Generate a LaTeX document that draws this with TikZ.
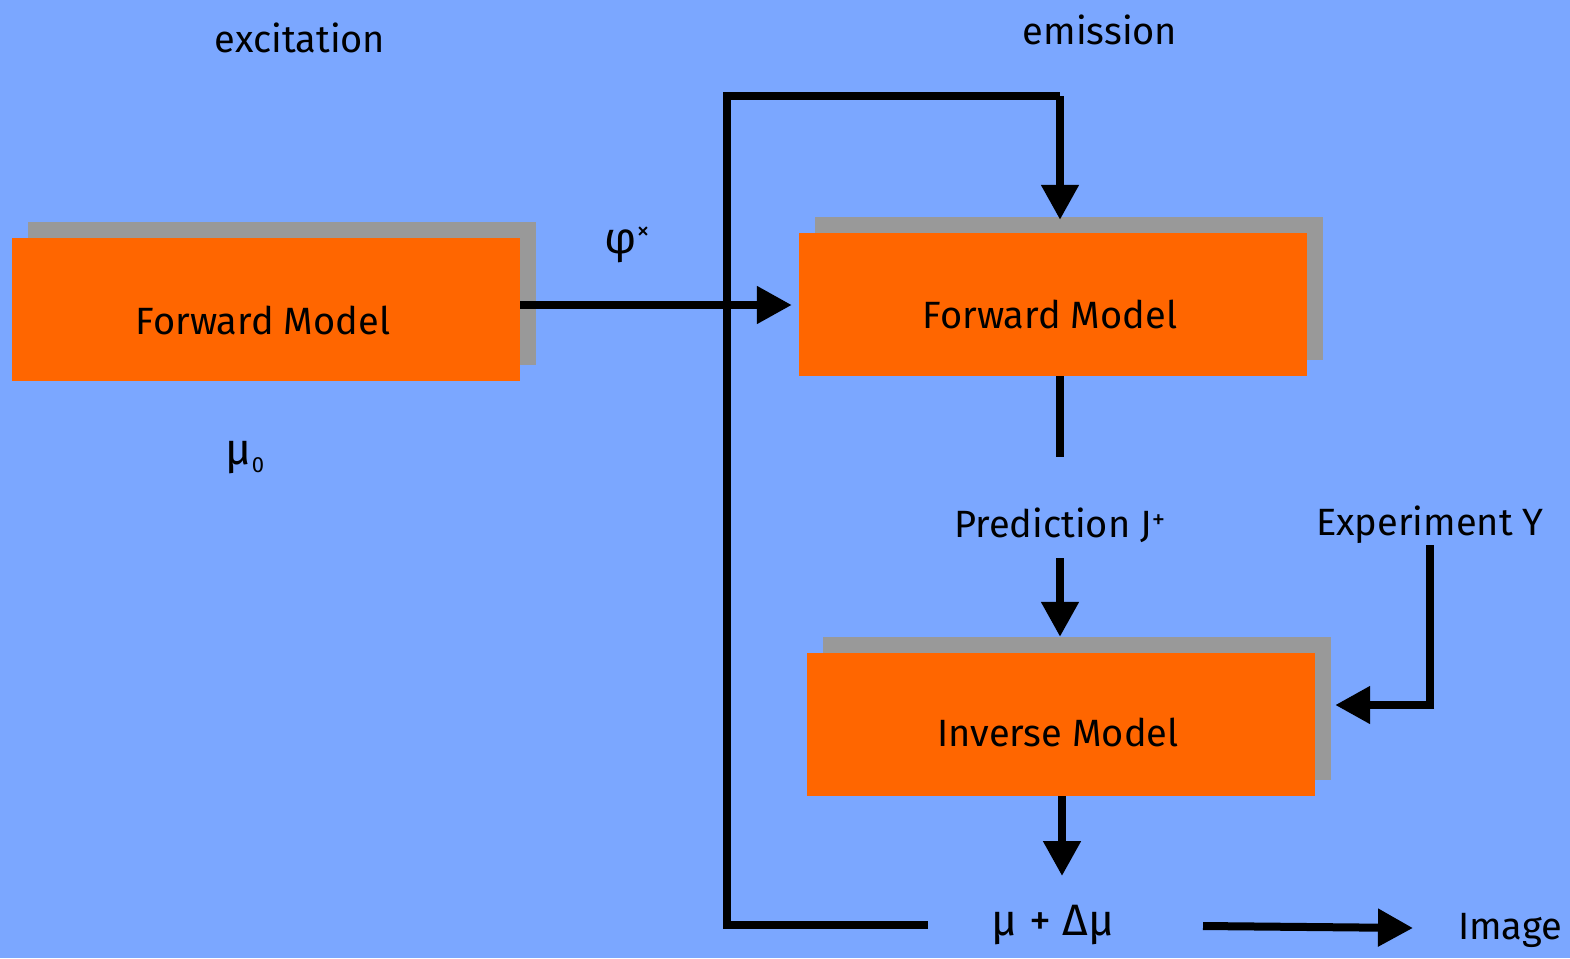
\documentclass[tikz,border=0pt]{standalone}
\usepackage{fontspec}
\setmainfont{Fira Sans}
\usetikzlibrary{arrows.meta,calc}
\definecolor{bg}{HTML}{7BA7FF}
\definecolor{org}{HTML}{FF6600}
\definecolor{shd}{HTML}{999999}
\tikzset{
  box/.style={fill=org, minimum width=508pt, minimum height=143pt, inner sep=0pt},
  shadowbox/.style={fill=shd, minimum width=508pt, minimum height=143pt, inner sep=0pt},
  conn/.style={line width=8pt, draw=black},
  arr/.style={conn, -{Triangle[length=35pt,width=36pt]}},
  lbl/.style={font=\fontsize{38}{44}\selectfont, inner sep=0pt},
  greek/.style={lbl, font=\fontsize{44}{48}\selectfont}
}
\begin{document}
\begin{tikzpicture}[x=1pt,y=-1pt]
\useasboundingbox (0,0) rectangle (1570,958);
\fill[bg] (0,0) rectangle (1570,958);
% shadows
\node[shadowbox] (s1) at (282,293.5) {};
\node[shadowbox] (s2) at (1069,288.5) {};
\node[shadowbox] (s3) at (1077,708.5) {};
% boxes
\node[box] (fm1) at (266,309.5) {};
\node[box] (fm2) at (1053,304.5) {};
\node[box] (inv) at (1061,724.5) {};
\node[lbl] (t1) at (263,320) {Forward Model};
\node[lbl] (t2) at (1050,314) {Forward Model};
\node[lbl] (t3) at (1058,732) {Inverse Model};
% labels
\node[lbl] (exc) at (300,38) {excitation};
\node[lbl] (emi) at (1100,30) {emission};
\node[greek] (phi) at (627,245) {φ\raisebox{14pt}{\fontsize{26}{28}\selectfont ×}};
\node[greek] (mu0) at (245,458) {μ\raisebox{-8pt}{\fontsize{22}{24}\selectfont 0}};
\node[lbl] (pred) at (1060,525) {Prediction J\textsuperscript{+}};
\node[lbl] (exp) at (1430,525) {Experiment Y};
\node[greek] (mu) at (1053,925) {μ + Δμ};
\node[lbl] (img) at (1510,930) {Image};
% coordinates
\coordinate (loopTR) at (1060,96);
\coordinate (loopTL) at (727,96);
\coordinate (loopBL) at (727,925);
\coordinate (muw) at (928,925);
\coordinate (predtop) at (1060,457);
\coordinate (expc) at (1430,705);
% connectors
\draw[arr] (fm1.east |- 0,305) -- ($(fm2.west |- 0,305)+(-7,0)$);
\draw[conn] (muw) -- (loopBL) -- (loopTL) -- (loopTR);
\draw[arr] (loopTR) -- ($(s2.north -| 1060,0)+(0,3)$);
\draw[conn] (fm2.south -| 1060,0) -- (predtop);
\draw[arr] (1060,558) -- (s3.north -| 1060,0);
\draw[conn] (1430,545) -- (expc);
\draw[arr] (1434,705) -- ($(s3.east |- 0,705)+(4,0)$);
\draw[arr] (inv.south -| 1062,0) -- (1062,876);
\draw[arr] (1203,926) -- (1413,928);
\end{tikzpicture}
\end{document}
